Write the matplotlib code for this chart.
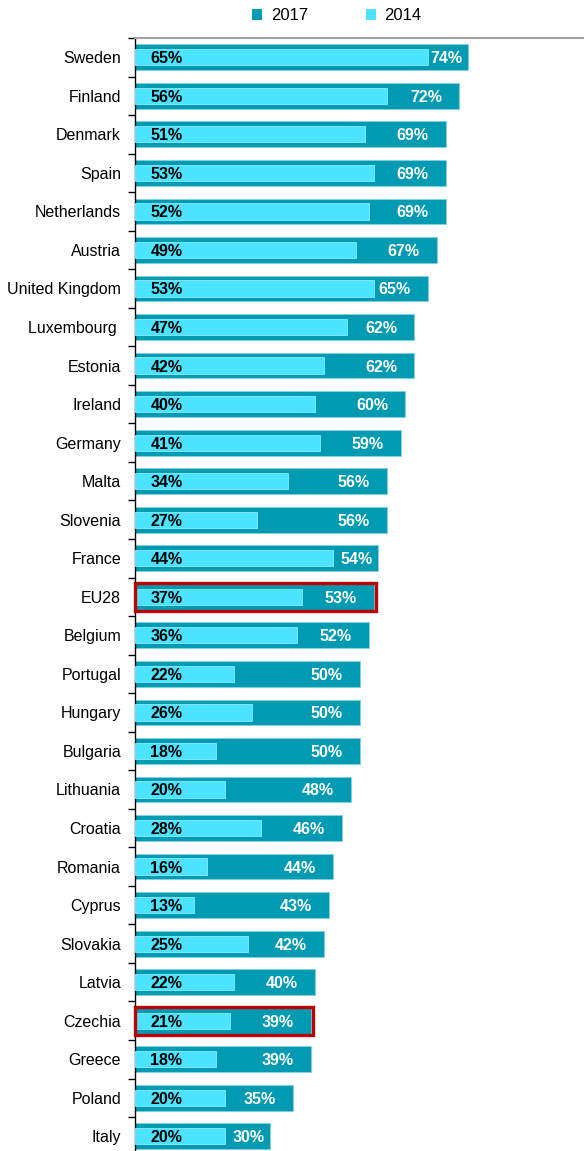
import matplotlib.pyplot as plt
from matplotlib.patches import Rectangle, Patch

countries = ['Sweden', 'Finland', 'Denmark', 'Spain', 'Netherlands', 'Austria',
             'United Kingdom', 'Luxembourg ', 'Estonia', 'Ireland', 'Germany', 'Malta',
             'Slovenia', 'France', 'EU28', 'Belgium', 'Portugal', 'Hungary', 'Bulgaria',
             'Lithuania', 'Croatia', 'Romania', 'Cyprus', 'Slovakia', 'Latvia',
             'Czechia', 'Greece', 'Poland', 'Italy']
v2017 = [74, 72, 69, 69, 69, 67, 65, 62, 62, 60, 59, 56, 56, 54, 53, 52, 50, 50, 50,
         48, 46, 44, 43, 42, 40, 39, 39, 35, 30]
v2014 = [65, 56, 51, 53, 52, 49, 53, 47, 42, 40, 41, 34, 27, 44, 37, 36, 22, 26, 18,
         20, 28, 16, 13, 25, 22, 21, 18, 20, 20]
highlight = ['EU28', 'Czechia']

c17 = '#009AB2'
c14 = '#4BE3FF'
red = '#C00000'

plt.rcParams['font.family'] = ['Liberation Sans', 'DejaVu Sans']

fig = plt.figure(figsize=(5.84, 11.51), dpi=100)
ax = fig.add_axes([135 / 584, -4.6 / 1151, 449 / 584, (1151 - 38 + 4.6) / 1151])

n = len(countries)
ys = list(range(n))
ax.barh(ys, v2017, height=0.67, color=c17, edgecolor='#7FD3E3', linewidth=0.6, zorder=2)
ax.barh(ys, v2014, height=0.42, color=c14, edgecolor='#8CEBFF', linewidth=0.6, zorder=3)

for y, a, b, name in zip(ys, v2017, v2014, countries):
    ax.text(3.4, y, f'{b}%', ha='left', va='center_baseline', fontsize=11.5,
            fontweight='bold', color='black', zorder=5)
    pad = 3.8
    if a - pad - 7.1 < b + 0.5:
        pad = 1.2
    ax.text(a - pad, y, f'{a}%', ha='right', va='center_baseline', fontsize=11.5,
            fontweight='bold', color='white', zorder=5)
    if name in highlight:
        ax.add_patch(Rectangle((0.1, y - 0.36), a + 0.5, 0.72, fill=False,
                               edgecolor=red, linewidth=2.4, zorder=6,
                               clip_on=False))

ax.set_xlim(0, 449 / 4.5)
ax.set_ylim(n - 0.5, -0.5)

ax.set_xticks([])
ax.set_yticks([i - 0.5 for i in range(n + 1)])
ax.set_yticklabels([])
ax.set_yticks(ys, minor=True)
ax.set_yticklabels(countries, minor=True, fontsize=11.5)
ax.tick_params(axis='y', which='major', direction='out', length=5, width=1)
ax.tick_params(axis='y', which='minor', length=0, pad=10)

ax.spines['right'].set_visible(False)
ax.spines['bottom'].set_visible(False)
ax.spines['top'].set_color('#A0A0A0')
ax.spines['top'].set_linewidth(1.5)
ax.spines['left'].set_linewidth(1)

handles = [Patch(facecolor=c17, label='2017'), Patch(facecolor=c14, label='2014')]
fig.legend(handles=handles, loc='center', bbox_to_anchor=(0.577, 1 - 16 / 1151),
           ncol=2, frameon=False, fontsize=12, handlelength=0.6, handleheight=0.6,
           handletextpad=0.5, columnspacing=3.5)

fig.savefig('out.png', dpi=100)
